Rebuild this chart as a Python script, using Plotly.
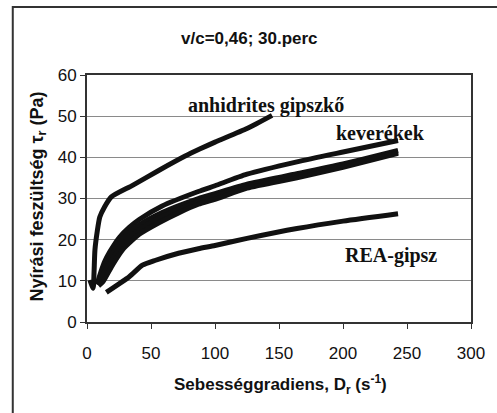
import plotly.graph_objects as go

# Shear stress (Pa) vs. shear rate (1/s), w/c = 0.46, 30 min
anh_x = [2.3, 4.8, 5.5, 6.2, 8, 10, 13.8, 19, 35.6, 56, 76.7, 88, 100, 125, 144.6]
anh_y = [10.2, 8.2, 12, 17.5, 22, 25.5, 28, 30.4, 33.2, 36.8, 40.3, 42.0, 43.7, 47.0, 50.2]

kev1_x = [8, 11, 14, 17.7, 25.4, 33, 40.8, 58.7, 87, 100, 125, 164, 200, 243]
kev1_y = [9.3, 12.3, 14.8, 17.0, 20.6, 23.0, 24.9, 28.2, 31.7, 33.1, 35.9, 38.9, 41.3, 44.1]

kev2_x = [8.3, 11, 14, 17.7, 25.4, 33, 40.8, 58.7, 87, 100, 125, 164, 200, 243]
kev2_y = [9.1, 11.4, 13.6, 15.6, 19.2, 21.7, 23.6, 26.6, 30.0, 31.2, 33.5, 36.0, 38.4, 41.7]

kev3_x = [8.6, 11, 14, 17.7, 25.4, 33, 40.8, 58.7, 87, 100, 125, 164, 200, 243]
kev3_y = [9.0, 10.5, 12.4, 14.2, 17.9, 20.4, 22.4, 25.6, 29.2, 30.5, 33.0, 35.5, 38.0, 41.3]

kev4_x = [9, 12.5, 20.2, 27.9, 40.8, 56.2, 71.5, 87, 100, 125, 164, 200, 243]
kev4_y = [8.8, 9.8, 14.0, 17.6, 21.3, 24.1, 26.5, 28.6, 29.8, 32.5, 35.0, 37.6, 41.0]

rea_x = [15.1, 33, 43.3, 53.6, 71.5, 87, 100, 125, 164, 200, 243]
rea_y = [7.2, 11, 13.8, 15, 16.7, 17.8, 18.6, 20.3, 22.7, 24.5, 26.3]

x_ticks = [0, 50, 100, 150, 200, 250, 300]
y_ticks = [0, 10, 20, 30, 40, 50, 60]

W, H = 497, 413
L, R, T, B = 87, 22, 75, 91
pw, ph = W - L - R, H - T - B


def px_x(px):
    return (px - L) / pw


def px_y(py):
    return (H - B - py) / ph


fig = go.Figure()
for xs, ys in [(anh_x, anh_y), (kev1_x, kev1_y), (kev2_x, kev2_y),
               (kev3_x, kev3_y), (kev4_x, kev4_y), (rea_x, rea_y)]:
    fig.add_trace(go.Scatter(
        x=xs, y=ys, mode="lines",
        line=dict(color="#111111", width=5, shape="spline", smoothing=0.6),
        hoverinfo="skip", showlegend=False,
    ))

serif = "Liberation Serif, Times New Roman, serif"
sans = "Liberation Sans, Arial, sans-serif"
narrow = "Liberation Sans Narrow, Arial Narrow, Liberation Sans, sans-serif"

annotations = [
    dict(text="anhidrites gipszkő", x=77.7, y=52.6, xref="x", yref="y",
         xanchor="left", yanchor="middle", showarrow=False,
         font=dict(family=serif, size=20, color="#111", weight="bold")),
    dict(text="keverékek", x=193, y=46.0, xref="x", yref="y",
         xanchor="left", yanchor="middle", showarrow=False,
         font=dict(family=serif, size=20, color="#111", weight="bold")),
    dict(text="REA-gipsz", x=200, y=16.2, xref="x", yref="y",
         xanchor="left", yanchor="middle", showarrow=False,
         font=dict(family=serif, size=20, color="#111", weight="bold")),
    dict(text="v/c=0,46; 30.perc", x=px_x(251), y=px_y(39),
         xref="paper", yref="paper", xanchor="center", yanchor="middle",
         showarrow=False,
         font=dict(family=sans, size=17, color="#111", weight="bold")),
    dict(text="Sebességgradiens, D<sub>r</sub> (s<sup>-1</sup>)",
         x=px_x(283), y=px_y(384), xref="paper", yref="paper",
         xanchor="center", yanchor="middle", showarrow=False,
         font=dict(family=sans, size=17, color="#111", weight="bold")),
    dict(text="Nyírási feszültség τ<sub>r</sub> (Pa)",
         x=px_x(37), y=px_y(197), xref="paper", yref="paper",
         xanchor="center", yanchor="middle", showarrow=False, textangle=-90,
         font=dict(family=sans, size=18, color="#111", weight="bold")),
]

shapes = [
    # outer chart frame (left and top edges visible)
    dict(type="rect", xref="paper", yref="paper",
         x0=px_x(12), x1=px_x(520), y0=px_y(440), y1=px_y(7),
         line=dict(color="#333", width=2), layer="below"),
]

fig.update_layout(
    width=W, height=H,
    margin=dict(l=L, r=R, t=T, b=B),
    paper_bgcolor="white", plot_bgcolor="white",
    annotations=annotations, shapes=shapes,
    xaxis=dict(range=[0, 300], tickvals=x_ticks, ticks="outside", ticklen=5,
               tickcolor="#333", showgrid=False, zeroline=False,
               showline=True, linecolor="#333", linewidth=2, mirror=True,
               ticklabelstandoff=10,
               tickfont=dict(family=narrow, size=17, color="#111")),
    yaxis=dict(range=[0, 60], tickvals=y_ticks, ticks="outside", ticklen=5,
               tickcolor="#333", showgrid=True, gridcolor="#8a8a8a",
               gridwidth=1, zeroline=False,
               showline=True, linecolor="#333", linewidth=2, mirror=True,
               tickfont=dict(family=narrow, size=17, color="#111")),
)

fig.write_html("out.html")
